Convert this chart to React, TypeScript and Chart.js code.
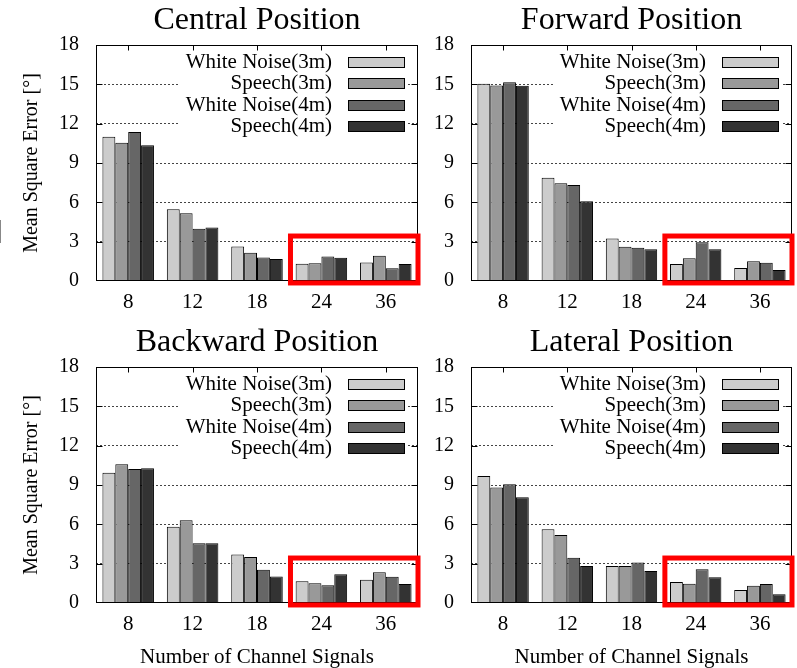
import React, { useEffect, useRef } from "react";
import { Chart, registerables } from "chart.js";

Chart.register(...registerables);

// ---------- data ----------
const CATEGORIES = ["8", "12", "18", "24", "36"];
const SERIES_LABELS = ["White Noise(3m)", "Speech(3m)", "White Noise(4m)", "Speech(4m)"];
const SERIES_COLORS = ["#cccccc", "#999999", "#666666", "#333333"];
const Y_MIN = 0;
const Y_MAX = 18;
const Y_STEP = 3;

const CENTRAL_WN3 = [11.0, 5.47, 2.64, 1.32, 1.42];
const CENTRAL_SP3 = [10.55, 5.16, 2.16, 1.35, 1.93];
const CENTRAL_WN4 = [11.37, 3.99, 1.8, 1.86, 0.97];
const CENTRAL_SP4 = [10.35, 4.09, 1.68, 1.78, 1.3];

const FORWARD_WN3 = [15.05, 7.88, 3.25, 1.3, 0.99];
const FORWARD_SP3 = [14.92, 7.45, 2.62, 1.73, 1.5];
const FORWARD_WN4 = [15.15, 7.32, 2.54, 2.95, 1.4];
const FORWARD_SP4 = [14.9, 6.08, 2.42, 2.42, 0.84];

const BACKWARD_WN3 = [9.94, 5.82, 3.69, 1.65, 1.78];
const BACKWARD_SP3 = [10.58, 6.31, 3.51, 1.5, 2.34];
const BACKWARD_WN4 = [10.22, 4.55, 2.54, 1.35, 2.01];
const BACKWARD_SP4 = [10.27, 4.55, 2.03, 2.19, 1.45];

const LATERAL_WN3 = [9.69, 5.62, 2.82, 1.6, 0.99];
const LATERAL_SP3 = [8.8, 5.19, 2.82, 1.47, 1.32];
const LATERAL_WN4 = [9.05, 3.46, 3.08, 2.57, 1.45];
const LATERAL_SP4 = [8.06, 2.82, 2.44, 1.96, 0.66];

// highlighted region (category index range and value range)
const HIGHLIGHT_FROM = 2.52;
const HIGHLIGHT_TOP = 3.43;
const HIGHLIGHT_BOTTOM = -0.15;

const Y_TITLE = "Mean Square Error [°]";
const X_TITLE = "Number of Channel Signals";

const FONT = "'Liberation Serif', 'Times New Roman', serif";

const framePlugin = {
  id: "frameLegendHighlight",
  afterDatasetsDraw(chart: any) {
    const { ctx, chartArea: a, scales } = chart;
    const xs = scales.x;
    const ys = scales.y;
    ctx.save();
    // legend (white box over grid lines)
    ctx.fillStyle = "#ffffff";
    ctx.fillRect(a.left + 84, a.top + 4, a.right - 10 - (a.left + 84), 90);
    ctx.font = "21px " + FONT;
    ctx.textAlign = "right";
    ctx.textBaseline = "middle";
    chart.data.datasets.forEach((ds: any, i: number) => {
      const cy = Math.round(a.top + 16.7 + 21.4 * i);
      ctx.fillStyle = "#000";
      ctx.fillText(ds.label, a.right - 86, cy);
      const sx = Math.round(a.right - 70);
      ctx.fillStyle = ds.backgroundColor;
      ctx.fillRect(sx, cy - 5, 57, 10);
      ctx.strokeStyle = "#000";
      ctx.lineWidth = 1;
      ctx.strokeRect(sx + 0.5, cy - 5 + 0.5, 56, 10);
    });
    // frame
    const L = Math.round(a.left) + 0.5;
    const R = Math.round(a.right) - 0.5;
    const T = Math.round(a.top) + 0.5;
    const B = Math.round(a.bottom) - 0.5;
    ctx.strokeStyle = "#000";
    ctx.lineWidth = 1;
    ctx.strokeRect(L, T, R - L, B - T);
    // inner tick marks
    ctx.beginPath();
    ys.ticks.forEach((t: any) => {
      if (t.value <= Y_MIN || t.value >= Y_MAX) return;
      const py = Math.round(ys.getPixelForValue(t.value)) + 0.5;
      ctx.moveTo(L, py);
      ctx.lineTo(L + 6, py);
      ctx.moveTo(R, py);
      ctx.lineTo(R - 6, py);
    });
    CATEGORIES.forEach((_c, i) => {
      const px = Math.round(xs.getPixelForValue(i)) + 0.5;
      ctx.moveTo(px, T);
      ctx.lineTo(px, T + 5);
    });
    ctx.stroke();
    // highlight rectangle
    const hx1 = xs.getPixelForValue(HIGHLIGHT_FROM);
    const hx2 = a.right;
    const hy1 = ys.getPixelForValue(HIGHLIGHT_TOP);
    const hy2 = ys.getPixelForValue(HIGHLIGHT_BOTTOM);
    ctx.strokeStyle = "#ff0000";
    ctx.lineWidth = 5;
    ctx.strokeRect(hx1, hy1, hx2 - hx1, hy2 - hy1);
    ctx.restore();
  },
};

type PanelProps = {
  title: string;
  series: number[][];
  left: number;
  top: number;
  width: number;
  height: number;
  yAxisWidth: number;
  xAxisHeight: number;
  padRight: number;
  yTitle: boolean;
  xTitle: boolean;
};

function Panel(p: PanelProps) {
  const ref = useRef<HTMLCanvasElement>(null);
  useEffect(() => {
    const chart = new Chart(ref.current as HTMLCanvasElement, {
      type: "bar",
      data: {
        labels: CATEGORIES,
        datasets: p.series.map((vals, i) => ({
          label: SERIES_LABELS[i],
          data: vals,
          backgroundColor: SERIES_COLORS[i],
          borderColor: "#000000",
          borderWidth: 1,
          barPercentage: 1,
          categoryPercentage: 0.8,
        })),
      },
      options: {
        animation: false,
        responsive: false,
        devicePixelRatio: 1,
        layout: { padding: { left: 0, right: p.padRight, top: 0, bottom: 0 } },
        plugins: {
          legend: { display: false },
          tooltip: { enabled: false },
          title: {
            display: true,
            text: p.title,
            fullSize: false,
            color: "#000",
            font: { family: FONT, size: 32, weight: "normal", lineHeight: 1.2 },
            padding: { top: 1, bottom: 5.6 },
          },
        },
        scales: {
          x: {
            type: "category",
            grid: { display: false, drawTicks: false },
            border: { display: false },
            ticks: { color: "#000", font: { family: FONT, size: 21 }, padding: 9, maxRotation: 0 },
            title: {
              display: p.xTitle,
              text: X_TITLE,
              color: "#000",
              font: { family: FONT, size: 21, lineHeight: 1 },
              padding: { top: 0, bottom: 0 },
            },
            afterFit: (s: any) => {
              s.height = p.xAxisHeight;
            },
          },
          y: {
            min: Y_MIN,
            max: Y_MAX,
            grid: {
              drawTicks: false,
              lineWidth: 1,
              color: (c: any) =>
                c.tick && (c.tick.value <= Y_MIN || c.tick.value >= Y_MAX) ? "rgba(0,0,0,0)" : "#444444",
            },
            border: { display: false, dash: [2, 2] },
            ticks: { stepSize: Y_STEP, color: "#000", font: { family: FONT, size: 20 }, padding: 17 },
            title: {
              display: p.yTitle,
              text: Y_TITLE,
              color: "#000",
              font: { family: FONT, size: 20, lineHeight: 1.2 },
              padding: { top: 20, bottom: 0 },
            },
            afterFit: (s: any) => {
              s.width = p.yAxisWidth;
            },
          },
        },
      } as any,
      plugins: [framePlugin],
    });
    return () => chart.destroy();
  }, []);
  return (
    <canvas
      ref={ref}
      width={p.width}
      height={p.height}
      style={{ position: "absolute", left: p.left, top: p.top, width: p.width, height: p.height }}
    />
  );
}

export default function App() {
  return (
    <div
      style={{
        position: "absolute",
        left: 0,
        top: 0,
        width: 797,
        height: 668,
        background: "#ffffff",
        overflow: "hidden",
      }}
    >
      <div style={{ position: "absolute", left: 0, top: 220, width: 1, height: 23, background: "#888" }} />
      <Panel
        title="Central Position"
        series={[CENTRAL_WN3, CENTRAL_SP3, CENTRAL_WN4, CENTRAL_SP4]}
        left={0}
        top={0}
        width={430}
        height={320}
        yAxisWidth={96}
        xAxisHeight={39}
        padRight={12}
        yTitle={true}
        xTitle={false}
      />
      <Panel
        title="Forward Position"
        series={[FORWARD_WN3, FORWARD_SP3, FORWARD_WN4, FORWARD_SP4]}
        left={430}
        top={0}
        width={367}
        height={320}
        yAxisWidth={41}
        xAxisHeight={39}
        padRight={5}
        yTitle={false}
        xTitle={false}
      />
      <Panel
        title="Backward Position"
        series={[BACKWARD_WN3, BACKWARD_SP3, BACKWARD_WN4, BACKWARD_SP4]}
        left={0}
        top={322}
        width={430}
        height={346}
        yAxisWidth={96}
        xAxisHeight={65}
        padRight={12}
        yTitle={true}
        xTitle={true}
      />
      <Panel
        title="Lateral Position"
        series={[LATERAL_WN3, LATERAL_SP3, LATERAL_WN4, LATERAL_SP4]}
        left={430}
        top={322}
        width={367}
        height={346}
        yAxisWidth={41}
        xAxisHeight={65}
        padRight={5}
        yTitle={false}
        xTitle={true}
      />
    </div>
  );
}
